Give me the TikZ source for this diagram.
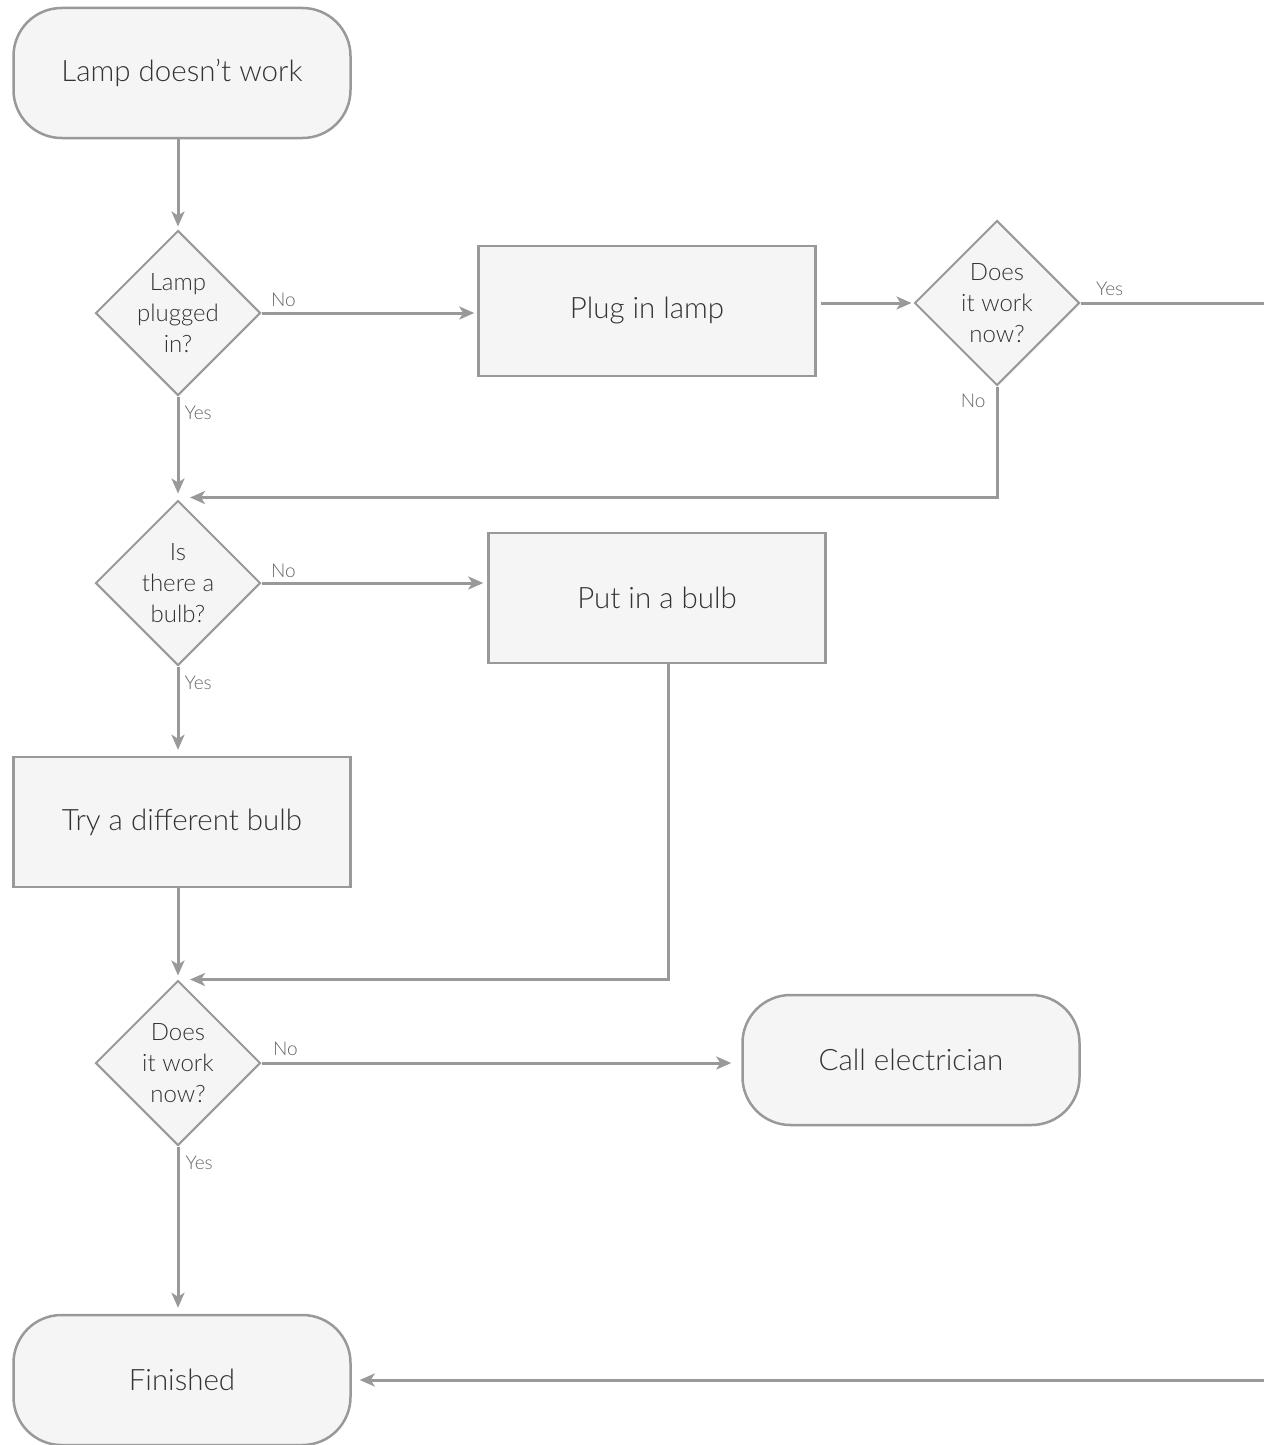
\documentclass[tikz,border=0pt]{standalone}
\usepackage{fontspec}
\setmainfont{Lato Light}
\usetikzlibrary{shapes.geometric,arrows.meta}
\definecolor{linegray}{HTML}{999999}
\definecolor{boxfill}{HTML}{F5F5F5}
\definecolor{textgray}{HTML}{333333}
\definecolor{lblgray}{HTML}{666666}

\begin{document}
\begin{tikzpicture}[x=1pt,y=-1pt,>={Stealth[length=15pt,width=13pt,inset=4pt]},
	term/.style={draw=linegray,fill=boxfill,line width=2.5pt,rectangle,rounded corners=48pt,minimum width=337pt,minimum height=130pt,text=textgray,font=\fontsize{29.5}{34}\selectfont},
	proc/.style={draw=linegray,fill=boxfill,line width=2.5pt,rectangle,minimum width=337pt,minimum height=130pt,text=textgray,font=\fontsize{29.5}{34}\selectfont},
	dec/.style={draw=linegray,fill=boxfill,line width=2pt,diamond,aspect=1,inner sep=0pt,minimum width=165pt,minimum height=165pt,align=center,text=textgray,font=\fontsize{24}{31}\selectfont},
	flow/.style={draw=linegray,line width=3pt},
	lbl/.style={text=lblgray,font=\fontsize{19}{22}\selectfont,inner sep=2pt}]

	\useasboundingbox (0,0) rectangle (1264,1445);

	\node[term] (Lamp) at (182,73) {Lamp doesn’t work};
	\node[dec] (Plugged) at (178,313) {Lamp\\plugged\\in?};
	\node[proc] (Plug) at (647,311) {Plug in lamp};
	\node[dec] (Works1) at (997,303) {Does\\it work\\now?};
	\node[dec] (Bulb) at (178,583) {Is\\there a\\bulb?};
	\node[proc] (PutBulb) at (657,598) {Put in a bulb};
	\node[proc] (TryBulb) at (182,822) {Try a different bulb};
	\node[dec] (Works2) at (178,1063) {Does\\it work\\now?};
	\node[term] (Electrician) at (911,1060) {Call electrician};
	\node[term] (Finished) at (182,1380) {Finished};

	% loose ends at the right border
	\coordinate (YesOut) at (1264,303);
	\coordinate (YesIn) at (1264,1380);

	\draw[flow,->,shorten >=3pt] (Lamp.south -| Plugged.north) -- (Plugged.north);
	\draw[flow,->,shorten >=3pt] (Plugged.east) node[lbl,above right,xshift=6pt,yshift=3pt]{No} -- (Plugged.east -| Plug.west);
	\draw[flow,->,shorten >=6pt] (Plugged.south) node[lbl,below right,xshift=3pt,yshift=-6pt]{Yes} -- (Bulb.north);
	\draw[flow,->,shorten >=2pt] ([xshift=4pt]Plug.east |- Works1.west) -- (Works1.west);
	\draw[flow] (Works1.east) node[lbl,above right,xshift=12pt,yshift=4pt]{Yes} -- (YesOut);
	\draw[flow,->] (Works1.south) node[lbl,below left,xshift=-8pt,yshift=-4pt]{No} |- ([xshift=12pt,yshift=2pt]Bulb.north);

	\draw[flow,->,shorten >=4pt] (Bulb.east) node[lbl,above right,xshift=6pt,yshift=2pt]{No} -- (Bulb.east -| PutBulb.west);
	\draw[flow,->,shorten >=6pt] (Bulb.south) node[lbl,below right,xshift=3pt,yshift=-6pt]{Yes} -- (Bulb.south |- TryBulb.north);
	\draw[flow,->,shorten >=4pt] (TryBulb.south -| Works2.north) -- (Works2.north);
	\draw[flow,->] ([xshift=11pt]PutBulb.south) |- ([xshift=12pt]Works2.north);

	\draw[flow,->,shorten >=10pt] (Works2.east) node[lbl,above right,xshift=8pt,yshift=4pt]{No} -- (Works2.east -| Electrician.west);
	\draw[flow,->,shorten >=6pt] (Works2.south) node[lbl,below right,xshift=4pt,yshift=-6pt]{Yes} -- (Works2.south |- Finished.north);
	\draw[flow,->,shorten >=8pt] (YesIn) -- (Finished.east);

\end{tikzpicture}
\end{document}
